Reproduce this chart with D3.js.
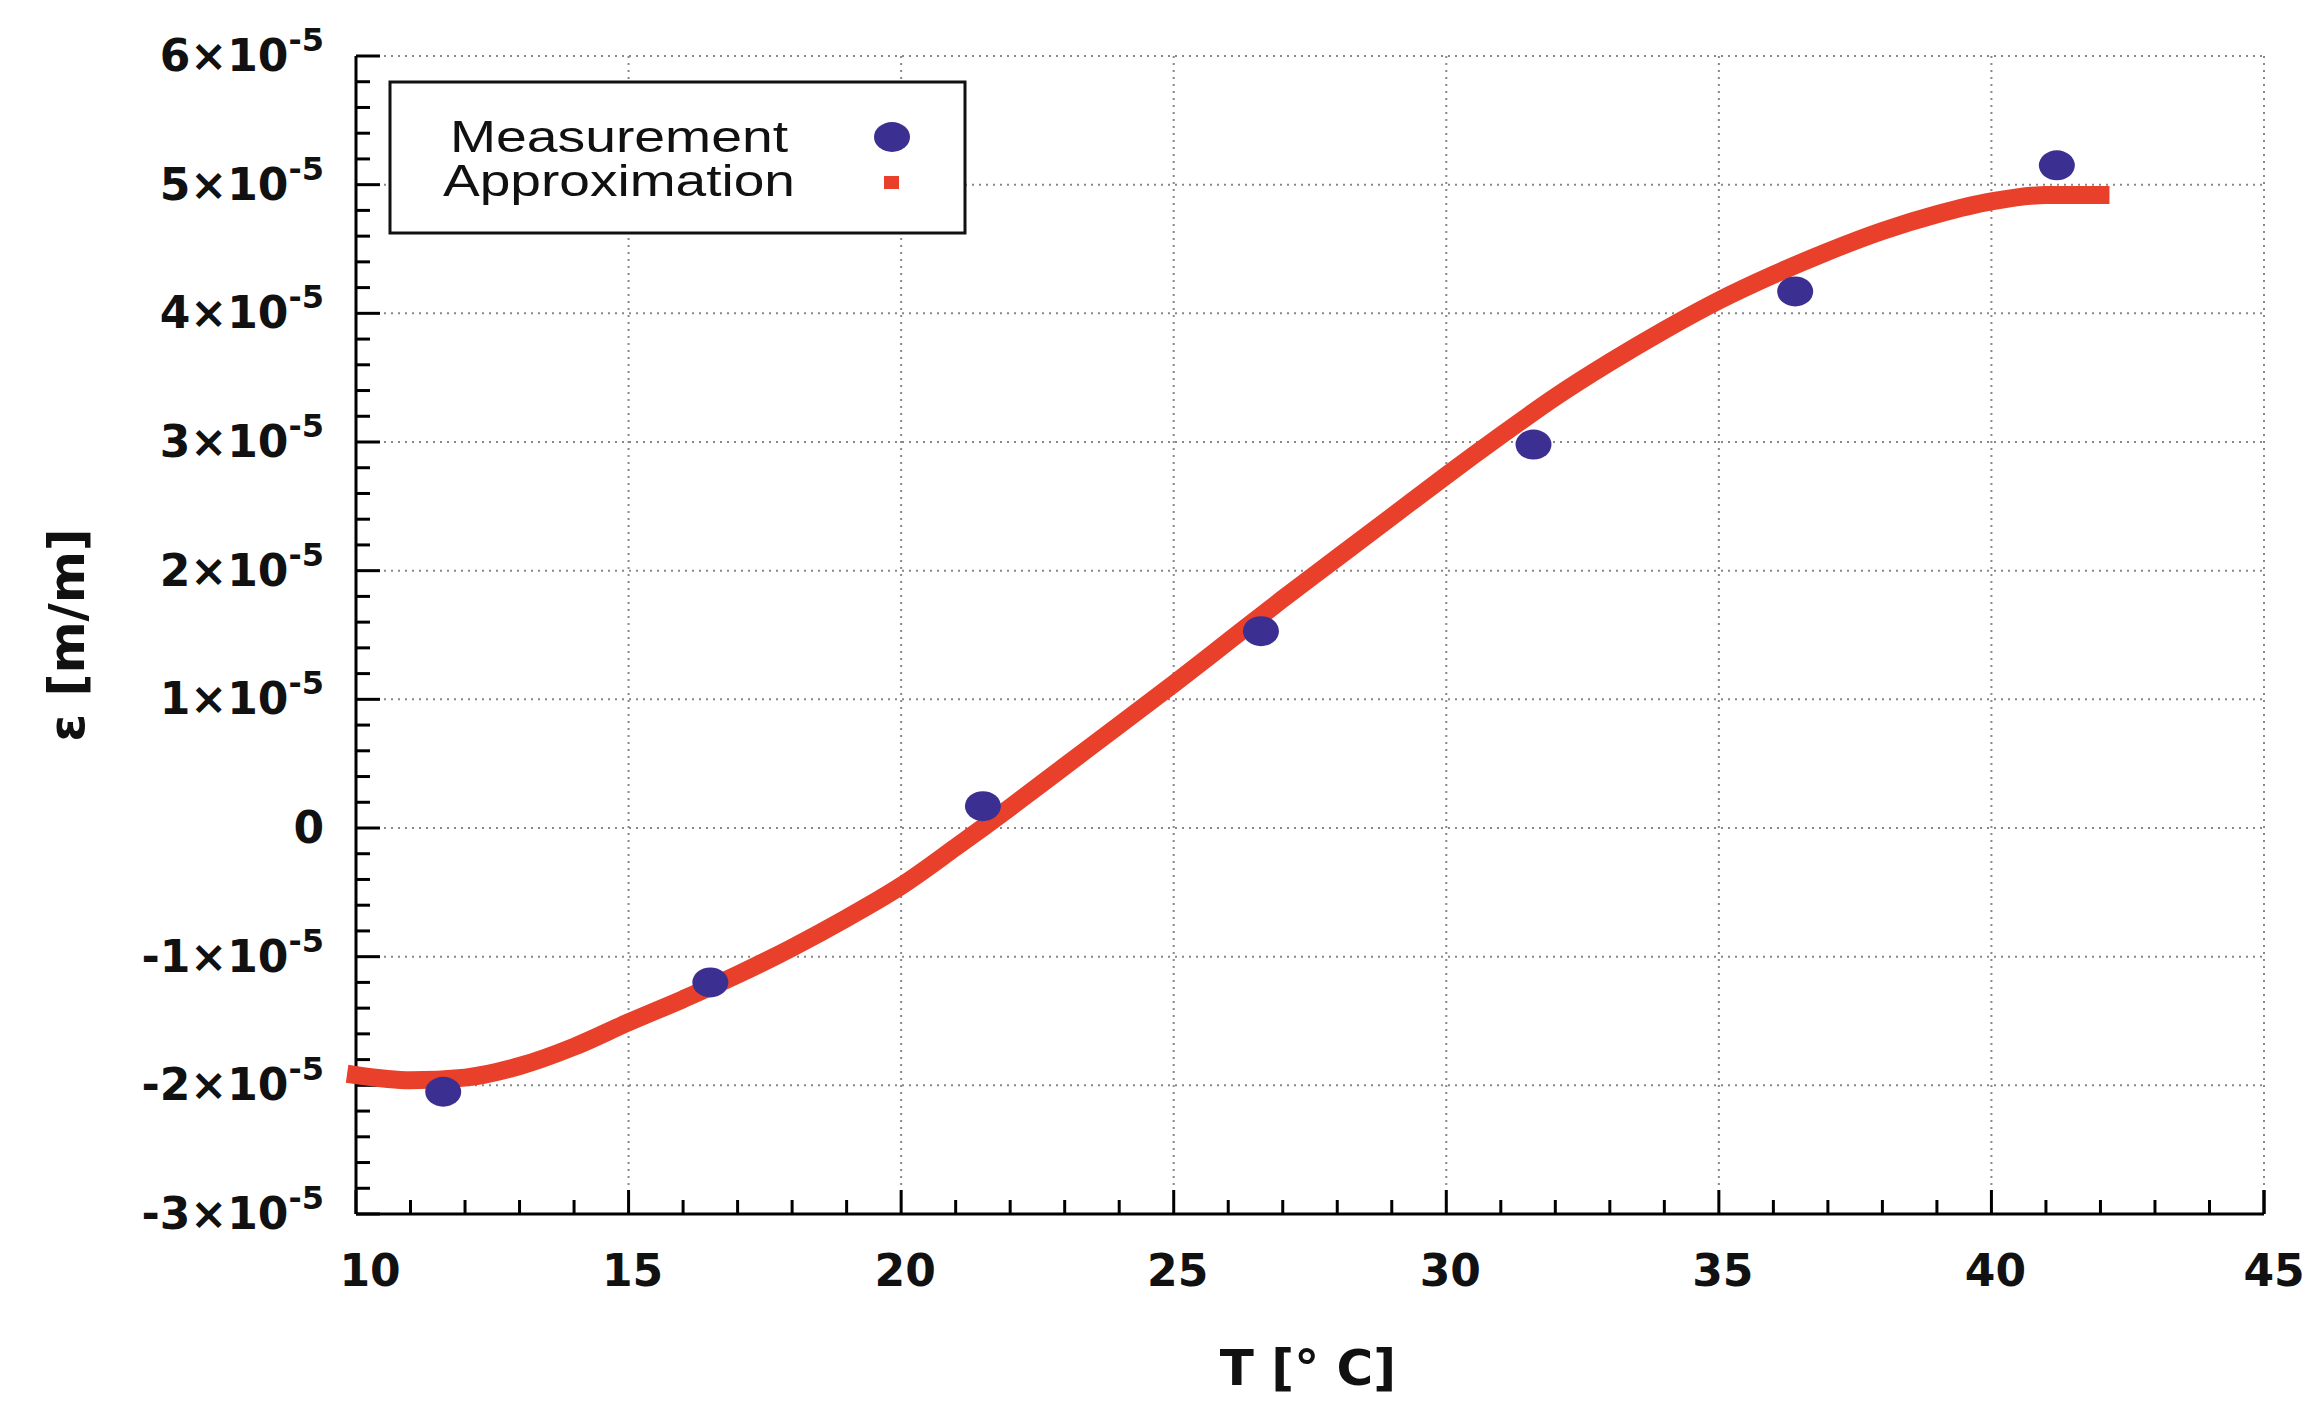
<!DOCTYPE html><html><head><meta charset="utf-8">
<script src="https://cdn.jsdelivr.net/npm/d3@7"></script>
<style>body{margin:0;background:#fff}</style></head><body>
<svg id="c" width="2316" height="1407"></svg>
<script>
const measT=[11.6,16.5,21.5,26.6,31.6,36.4,41.2];
const measE=[-2.05,-1.2,0.17,1.53,2.98,4.17,5.15];
const approxT=[10,11,12,13,14,15,16,17,18,19,20,21,22,23,24,25,26,27,28,29,30,31,32,33,34,35,36,37,38,39,40,41,42];
const approxE=[-1.92,-1.96,-1.94,-1.85,-1.7,-1.51,-1.33,-1.14,-0.93,-0.7,-0.45,-0.15,0.16,0.48,0.8,1.12,1.45,1.78,2.1,2.42,2.74,3.05,3.35,3.62,3.87,4.1,4.3,4.48,4.64,4.77,4.87,4.92,4.92];
const xTicks=[10,15,20,25,30,35,40,45];
const yTicks=[-3,-2,-1,0,1,2,3,4,5,6];
const svg=d3.select("#c");
const L=356,R=2264,T=56,B=1214;
const x=d3.scaleLinear().domain([10,45]).range([L,R]);
const y=d3.scaleLinear().domain([-3,6]).range([B,T]);
const F="DejaVu Sans";
svg.append("g").selectAll("line").data(xTicks.slice(1)).join("line")
 .attr("x1",d=>x(d)).attr("x2",d=>x(d)).attr("y1",T).attr("y2",B)
 .attr("stroke","#888").attr("stroke-width",2).attr("stroke-dasharray","2,5");
svg.append("g").selectAll("line").data(yTicks.slice(1)).join("line")
 .attr("x1",L).attr("x2",R).attr("y1",d=>y(d)).attr("y2",d=>y(d))
 .attr("stroke","#888").attr("stroke-width",2).attr("stroke-dasharray","2,5");
svg.append("line").attr("x1",L).attr("x2",L).attr("y1",T).attr("y2",B).attr("stroke","#000").attr("stroke-width",3);
svg.append("line").attr("x1",L).attr("x2",R).attr("y1",B).attr("y2",B).attr("stroke","#000").attr("stroke-width",3);
svg.append("line").attr("x1",R).attr("x2",R).attr("y1",B-24).attr("y2",B).attr("stroke","#000").attr("stroke-width",3);
d3.range(10,46,1).forEach(v=>{const maj=v%5===0;
 svg.append("line").attr("x1",x(v)).attr("x2",x(v)).attr("y1",B).attr("y2",B-(maj?24:14)).attr("stroke","#000").attr("stroke-width",3);});
d3.range(-3,6.01,0.2).forEach(v=>{const maj=Math.abs(v-Math.round(v))<1e-6;
 svg.append("line").attr("x1",L).attr("x2",L+(maj?24:14)).attr("y1",y(v)).attr("y2",y(v)).attr("stroke","#000").attr("stroke-width",3);});
svg.append("g").selectAll("text").data(xTicks).join("text")
 .attr("x",d=>x(d)+(d===10?14:d===45?10:4)).attr("y",B+72).attr("text-anchor","middle")
 .attr("font-family",F).attr("font-size",44).attr("font-weight","bold").attr("fill","#111").text(d=>d);
yTicks.forEach(d=>{
 const t=svg.append("text").attr("x",324).attr("y",y(d)+15).attr("text-anchor","end")
  .attr("font-family",F).attr("font-size",44).attr("font-weight","bold").attr("fill","#111");
 if(d===0){t.text("0");return;}
 t.append("tspan").text(d+"×10");
 t.append("tspan").attr("dy",-20).attr("font-size",32).text("-5");
});
svg.append("text").attr("x",1308).attr("y",1385).attr("text-anchor","middle").attr("font-family",F)
 .attr("font-size",50).attr("font-weight","bold").attr("fill","#111").text("T [° C]");
svg.append("text").attr("transform","translate(84,635) rotate(-90)").attr("text-anchor","middle").attr("font-family",F)
 .attr("font-size",50).attr("font-weight","bold").attr("fill","#111").text("ε [m/m]");
const line=d3.line().x((d,i)=>x(approxT[i])).y(d=>y(d)).curve(d3.curveMonotoneX);
svg.append("path").datum(approxE).attr("d",line).attr("fill","none").attr("stroke","#e8402a").attr("stroke-width",18).attr("stroke-linecap","square");
svg.append("g").selectAll("ellipse").data(measE).join("ellipse")
 .attr("cx",(d,i)=>x(measT[i])).attr("cy",d=>y(d)).attr("rx",18).attr("ry",15).attr("fill","#3b2f91");
svg.append("rect").attr("x",390).attr("y",82).attr("width",575).attr("height",151).attr("fill","#fff").attr("stroke","#111").attr("stroke-width",3);
svg.append("text").attr("x",450).attr("y",152).attr("font-family","Liberation Sans").attr("font-size",44).attr("textLength",338).attr("lengthAdjust","spacingAndGlyphs").attr("fill","#111").text("Measurement");
svg.append("text").attr("x",443).attr("y",196).attr("font-family","Liberation Sans").attr("font-size",44).attr("textLength",352).attr("lengthAdjust","spacingAndGlyphs").attr("fill","#111").text("Approximation");
svg.append("ellipse").attr("cx",892).attr("cy",137).attr("rx",18).attr("ry",15).attr("fill","#3b2f91");
svg.append("rect").attr("x",884).attr("y",176).attr("width",15).attr("height",13).attr("fill","#e8402a");
</script></body></html>
